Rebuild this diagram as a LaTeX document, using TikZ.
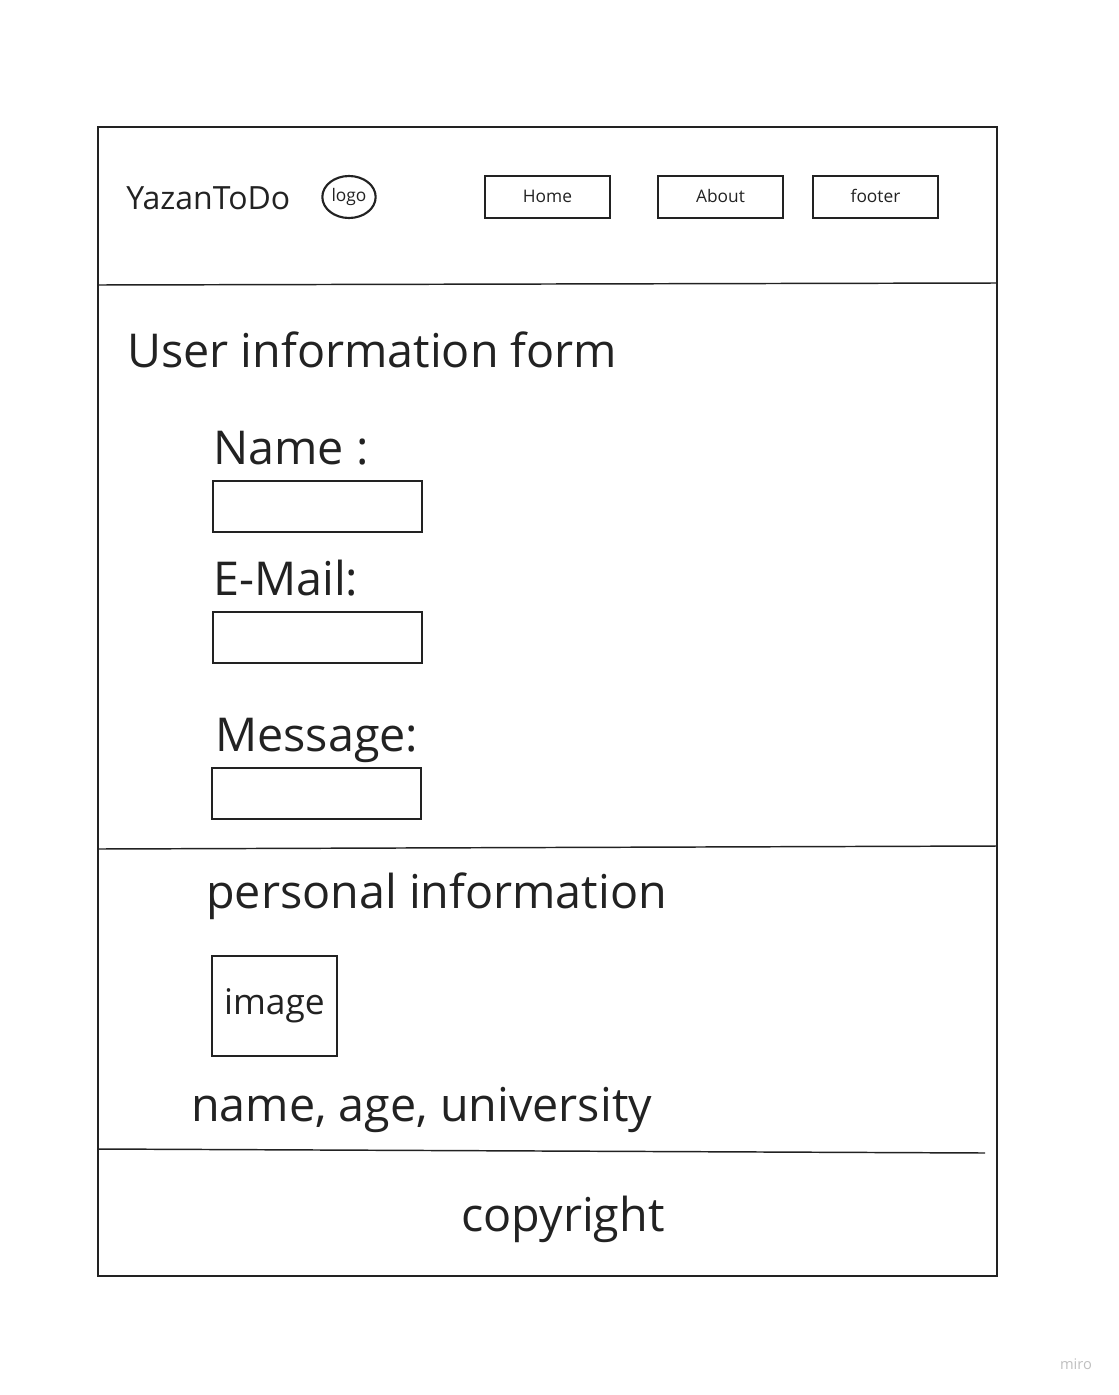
\documentclass[tikz,border=0pt]{standalone}
\usepackage{fontspec}
\setmainfont{Open Sans}
\usetikzlibrary{positioning,shapes.geometric}
\definecolor{ink}{HTML}{222222}
\tikzset{
  frame/.style={draw=ink, line width=1.9pt},
  rule/.style={draw=ink, line width=1.1pt},
  navbtn/.style={draw=ink, line width=1.6pt, minimum width=93.75pt, minimum height=31.5pt, inner sep=0pt, font=\fontsize{13}{15}\selectfont, text=ink},
  field/.style={draw=ink, line width=1.6pt, minimum width=156.75pt, minimum height=38.25pt, inner sep=0pt},
  label/.style={anchor=base west, inner sep=0pt, text=ink, font=\fontsize{35}{40}\selectfont}
}
\begin{document}
\begin{tikzpicture}[x=0.75pt, y=-0.75pt]
      \useasboundingbox (0,0) rectangle (1119,1395);
      % page frame and section rules
      \draw[frame] (98,127) rectangle (997,1276);
      \draw[rule] (98,285) -- (997,283);
      \draw[rule] (98,849) -- (997,846);
      \draw[rule] (98,1149) -- (985,1153);
      % header
      \node[label, font=\fontsize{24}{28}\selectfont] (brand) at (126,209) {YazanToDo};
      \node[draw=ink, line width=1.6pt, ellipse, minimum width=40pt, minimum height=31.5pt, inner sep=0pt, font=\fontsize{13}{15}\selectfont, text=ink] (logo) at (349,197) {logo};
      \foreach \name/\cx in {Home/547.5, About/720.5, footer/875.5} {
        \node[navbtn] (nav-\name) at (\cx,197) {\raisebox{1pt}{\name}};
      }
      % form
      \node[label] (formtitle) at (127,367) {User information form};
      \node[label] (namelbl) at (213,464) {Name :};
      \node[field] (namebox) at (317.5,506.5) {};
      \node[label] (maillbl) at (213,595) {E-Mail:};
      \node[field] (mailbox) at (317.5,637.5) {};
      \node[label] (msglbl) at (215,751) {Message:};
      \node[field] (msgbox) at (316.5,793.5) {};
      % personal information
      \node[label] (perstitle) at (206,908) {personal information};
      \node[draw=ink, line width=1.6pt, minimum width=93.75pt, minimum height=75pt, inner sep=0pt, text=ink, font=\fontsize{26.5}{30}\selectfont] (photo) at (274.5,1006) {\raisebox{2pt}{image}};
      \node[label] (details) at (191,1121) {name, age, university};
      % footer
      \node[label, anchor=base] (copy) at (563,1231) {copyright};
      \node[text=black!25, font=\fontsize{11}{13}\selectfont, inner sep=0pt] (miro) at (1076,1364) {miro};
\end{tikzpicture}
\end{document}
